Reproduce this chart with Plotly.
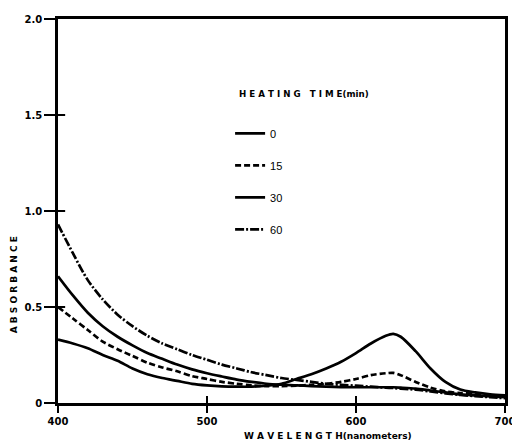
import plotly.graph_objects as go

wavelength = [400, 410, 420, 430, 440, 450, 460, 470, 480, 490, 500, 510, 520, 530, 540,
              550, 560, 570, 580, 590, 600, 610, 620, 625, 630, 640, 650, 660, 670, 680, 690, 700]

abs_0 = [0.33, 0.31, 0.285, 0.25, 0.22, 0.18, 0.15, 0.13, 0.115, 0.10, 0.092, 0.087, 0.085, 0.085, 0.09,
         0.10, 0.125, 0.15, 0.18, 0.215, 0.26, 0.31, 0.35, 0.36, 0.345, 0.27, 0.18, 0.11, 0.07, 0.055, 0.045, 0.04]
abs_15 = [0.50, 0.44, 0.38, 0.32, 0.28, 0.245, 0.21, 0.185, 0.165, 0.14, 0.125, 0.11, 0.10, 0.092, 0.088,
          0.088, 0.09, 0.095, 0.10, 0.11, 0.125, 0.145, 0.155, 0.157, 0.145, 0.11, 0.08, 0.06, 0.052, 0.048, 0.04, 0.035]
abs_30 = [0.66, 0.56, 0.47, 0.40, 0.345, 0.30, 0.26, 0.23, 0.20, 0.175, 0.155, 0.138, 0.122, 0.11, 0.10,
          0.095, 0.092, 0.088, 0.085, 0.083, 0.082, 0.082, 0.082, 0.082, 0.08, 0.075, 0.065, 0.055, 0.045, 0.04, 0.035, 0.03]
abs_60 = [0.93, 0.78, 0.64, 0.54, 0.46, 0.40, 0.35, 0.31, 0.28, 0.25, 0.225, 0.20, 0.18, 0.16, 0.145,
          0.13, 0.12, 0.11, 0.10, 0.095, 0.09, 0.085, 0.08, 0.078, 0.075, 0.07, 0.06, 0.05, 0.042, 0.036, 0.03, 0.025]

series_names = ["0", "15", "30", "60"]
series_values = [abs_0, abs_15, abs_30, abs_60]
series_dash = ["solid", "6px,3px", "solid", "9px,2px,2px,2px"]

x_tickvals = [400, 500, 600, 700]
x_ticktext = ["400", "500", "600", "700"]
y_tickvals = [0, 0.5, 1.0, 1.5, 2.0]
y_ticktext = ["0", "0.5", "1.0", "1.5", "2.0"]

fig = go.Figure()
for i, (name, vals, dash) in enumerate(zip(series_names, series_values, series_dash)):
    fig.add_trace(go.Scatter(
        x=wavelength, y=vals, mode="lines", name=name,
        line=dict(color="black", width=2.7, dash=dash, shape="spline", smoothing=0.8),
        legendgroup="g" + name,
    ))

# short tick stubs crossing into the plot area at the interior tick values
for v in x_tickvals[1:-1]:
    fig.add_shape(type="line", xref="x", yref="y domain", x0=v, x1=v, y0=0, y1=0.018,
                  line=dict(color="black", width=2))
for v in y_tickvals[1:-1]:
    fig.add_shape(type="line", xref="x domain", yref="y", x0=0, x1=0.016, y0=v, y1=v,
                  line=dict(color="black", width=2))

tickfont = dict(family="DejaVu Sans", size=10, color="black", weight="bold")

fig.update_layout(
    width=512, height=444,
    margin=dict(l=58, r=7, t=19, b=41),
    paper_bgcolor="white", plot_bgcolor="white",
    showlegend=True,
    legend=dict(x=0.385, y=0.74, xanchor="left", yanchor="top",
                font=dict(family="Liberation Sans", size=11, color="black"),
                traceorder="grouped", tracegroupgap=13, bgcolor="rgba(0,0,0,0)"),
    xaxis=dict(range=[400, 700], tickvals=x_tickvals, ticktext=x_ticktext,
               showline=True, linecolor="black", linewidth=2.5, mirror=True,
               ticks="outside", ticklen=7, tickwidth=2, tickcolor="black",
               showgrid=False, zeroline=False, tickfont=tickfont,
               ticklabeloverflow="allow", automargin=False),
    yaxis=dict(range=[0, 2], tickvals=y_tickvals, ticktext=y_ticktext,
               showline=True, linecolor="black", linewidth=2.5, mirror=True,
               ticks="outside", ticklen=11, tickwidth=2, tickcolor="black",
               showgrid=False, zeroline=False, tickfont=tickfont,
               ticklabeloverflow="allow", automargin=False),
    annotations=[
        dict(text="A B S O R B A N C E", textangle=-90, xref="paper", yref="paper",
             x=-0.098, y=0.307, xanchor="center", yanchor="middle", showarrow=False,
             font=dict(family="DejaVu Sans", size=9, color="black", weight="bold")),
        dict(text="W A V E L E N G T H(nanometers)", xref="paper", yref="paper",
             x=0.604, y=-0.086, xanchor="center", yanchor="middle", showarrow=False,
             font=dict(family="DejaVu Sans", size=9, color="black", weight="bold")),
        dict(text="H E A T I N G   T I M E(min)", xref="paper", yref="paper",
             x=0.55, y=0.805, xanchor="center", yanchor="middle", showarrow=False,
             font=dict(family="DejaVu Sans", size=8.7, color="black", weight="bold")),
    ],
)

fig.write_html("out.html", config={"displayModeBar": False},
               post_script="document.body.style.margin='0';")
